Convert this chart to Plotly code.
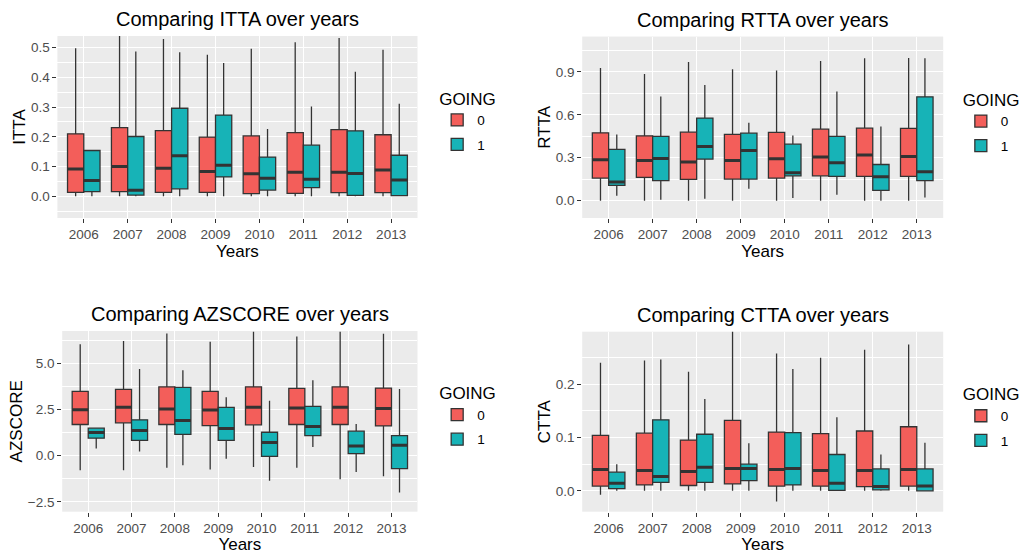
import plotly.graph_objects as go

years = ["2006", "2007", "2008", "2009", "2010", "2011", "2012", "2013"]
going_levels = ["0", "1"]
fill_colors = {"0": "#F35E5A", "1": "#17B3B7"}

# Box statistics per year: lower whisker, Q1, median, Q3, upper whisker
itta_0_low = [0.0, 0.0, 0.0, 0.0, 0.0, 0.0, 0.0, 0.0]
itta_0_q1 = [0.013, 0.016, 0.013, 0.013, 0.009, 0.010, 0.012, 0.012]
itta_0_med = [0.092, 0.100, 0.094, 0.083, 0.076, 0.081, 0.081, 0.088]
itta_0_q3 = [0.210, 0.231, 0.221, 0.199, 0.203, 0.214, 0.224, 0.207]
itta_0_high = [0.498, 0.545, 0.529, 0.476, 0.496, 0.518, 0.532, 0.493]

itta_1_low = [0.0, 0.0, 0.0, 0.0, 0.0, 0.0, 0.0, 0.0]
itta_1_q1 = [0.016, 0.004, 0.025, 0.065, 0.021, 0.029, 0.003, 0.002]
itta_1_med = [0.053, 0.020, 0.136, 0.104, 0.061, 0.057, 0.077, 0.055]
itta_1_q3 = [0.154, 0.201, 0.296, 0.273, 0.132, 0.172, 0.220, 0.138]
itta_1_high = [0.154, 0.487, 0.484, 0.448, 0.226, 0.302, 0.419, 0.311]

rtta_0_low = [0.0, 0.0, 0.0, 0.0, 0.0, 0.0, 0.0, 0.0]
rtta_0_q1 = [0.158, 0.163, 0.149, 0.151, 0.158, 0.174, 0.170, 0.170]
rtta_0_med = [0.286, 0.281, 0.270, 0.281, 0.293, 0.305, 0.319, 0.309]
rtta_0_q3 = [0.474, 0.453, 0.479, 0.463, 0.477, 0.500, 0.507, 0.505]
rtta_0_high = [0.928, 0.886, 0.970, 0.919, 0.909, 0.977, 0.995, 0.998]

rtta_1_low = [0.035, 0.007, 0.014, 0.084, 0.019, 0.042, 0.0, 0.023]
rtta_1_q1 = [0.107, 0.140, 0.291, 0.151, 0.174, 0.170, 0.072, 0.140]
rtta_1_med = [0.130, 0.295, 0.379, 0.351, 0.195, 0.265, 0.167, 0.202]
rtta_1_q3 = [0.358, 0.449, 0.577, 0.472, 0.395, 0.449, 0.253, 0.726]
rtta_1_high = [0.463, 0.728, 0.809, 0.544, 0.456, 0.763, 0.519, 0.995]

azscore_0_low = [-0.79, -0.79, -0.65, -0.74, -0.61, -0.65, -1.27, -1.11]
azscore_0_q1 = [1.69, 1.78, 1.69, 1.63, 1.67, 1.69, 1.69, 1.61]
azscore_0_med = [2.49, 2.62, 2.53, 2.48, 2.62, 2.58, 2.62, 2.55]
azscore_0_q3 = [3.48, 3.59, 3.73, 3.48, 3.73, 3.64, 3.73, 3.66]
azscore_0_high = [6.03, 6.21, 6.62, 6.17, 6.71, 6.46, 6.71, 6.60]

azscore_1_low = [0.39, 0.23, -0.52, -0.16, -1.36, 0.47, -0.88, -1.99]
azscore_1_q1 = [0.95, 0.83, 1.15, 0.83, -0.04, 1.09, 0.11, -0.70]
azscore_1_med = [1.26, 1.36, 1.90, 1.47, 0.72, 1.58, 0.52, 0.56]
azscore_1_q3 = [1.49, 1.94, 3.70, 2.62, 1.27, 2.67, 1.33, 1.09]
azscore_1_high = [1.52, 4.70, 4.63, 3.16, 2.98, 4.09, 1.72, 3.61]

ctta_0_low = [-0.0075, 0.0, 0.0, 0.0, -0.020, 0.0, 0.0, 0.0]
ctta_0_q1 = [0.009, 0.011, 0.010, 0.013, 0.009, 0.009, 0.008, 0.009]
ctta_0_med = [0.040, 0.038, 0.036, 0.042, 0.040, 0.038, 0.038, 0.040]
ctta_0_q3 = [0.104, 0.108, 0.095, 0.132, 0.110, 0.107, 0.112, 0.120]
ctta_0_high = [0.240, 0.244, 0.223, 0.305, 0.257, 0.249, 0.264, 0.274]

ctta_1_low = [0.0, 0.0, 0.0, 0.0, 0.0, 0.0, 0.0, 0.0]
ctta_1_q1 = [0.004, 0.016, 0.016, 0.019, 0.011, 0.001, 0.002, 0.0]
ctta_1_med = [0.014, 0.027, 0.044, 0.042, 0.042, 0.014, 0.008, 0.009]
ctta_1_q3 = [0.035, 0.133, 0.106, 0.050, 0.109, 0.068, 0.041, 0.041]
ctta_1_high = [0.050, 0.246, 0.172, 0.089, 0.228, 0.138, 0.068, 0.090]

panels = [
    {
        "var": "ITTA",
        "stats": {
            "0": (itta_0_low, itta_0_q1, itta_0_med, itta_0_q3, itta_0_high),
            "1": (itta_1_low, itta_1_q1, itta_1_med, itta_1_q3, itta_1_high),
        },
        "xdom": [0.0563, 0.4093], "ydom": [0.6065, 0.935],
        "yrange": [-0.073, 0.539], "dtick": 0.1, "minor": 0.05,
        "legend_xy": (0.4286, 0.851),
        "title_standoff": 0,
    },
    {
        "var": "RTTA",
        "stats": {
            "0": (rtta_0_low, rtta_0_q1, rtta_0_med, rtta_0_q3, rtta_0_high),
            "1": (rtta_1_low, rtta_1_q1, rtta_1_med, rtta_1_q3, rtta_1_high),
        },
        "xdom": [0.5708, 0.9247], "ydom": [0.6065, 0.934],
        "yrange": [-0.121, 1.147], "dtick": 0.3, "minor": 0.15,
        "legend_xy": (0.942, 0.849),
        "title_standoff": 0,
    },
    {
        "var": "AZSCORE",
        "stats": {
            "0": (azscore_0_low, azscore_0_q1, azscore_0_med, azscore_0_q3, azscore_0_high),
            "1": (azscore_1_low, azscore_1_q1, azscore_1_med, azscore_1_q3, azscore_1_high),
        },
        "xdom": [0.061, 0.4093], "ydom": [0.0764, 0.4025],
        "yrange": [-3.03, 6.75], "dtick": 2.5, "minor": 1.25,
        "legend_xy": (0.4286, 0.319),
        "title_standoff": 0,
    },
    {
        "var": "CTTA",
        "stats": {
            "0": (ctta_0_low, ctta_0_q1, ctta_0_med, ctta_0_q3, ctta_0_high),
            "1": (ctta_1_low, ctta_1_q1, ctta_1_med, ctta_1_q3, ctta_1_high),
        },
        "xdom": [0.5708, 0.9247], "ydom": [0.0764, 0.4013],
        "yrange": [-0.039, 0.298], "dtick": 0.1, "minor": 0.05,
        "legend_xy": (0.942, 0.317),
        "title_standoff": 0,
    },
]

BOX_W = 0.37          # width of each box in category units
DODGE = BOX_W / 2     # offset of each group from the category centre
OUTLINE = "#333333"
FONT = "Liberation Sans, Arial, Helvetica, sans-serif"

fig = go.Figure()
layout = {}

for p_idx, panel in enumerate(panels):
    n = p_idx + 1
    suffix = "" if n == 1 else str(n)
    xa, ya = f"x{suffix}", f"y{suffix}"
    legend_name = "legend" if n == 1 else f"legend{n}"

    for g_idx, level in enumerate(going_levels):
        low, q1, med, q3, high = panel["stats"][level]
        offset = -DODGE if g_idx == 0 else DODGE
        xpos = [i + offset for i in range(len(years))]
        fig.add_trace(go.Box(
            x=xpos, lowerfence=low, q1=q1, median=med, q3=q3, upperfence=high,
            width=BOX_W, whiskerwidth=0,
            fillcolor=fill_colors[level],
            line=dict(color=OUTLINE, width=1.3),
            boxpoints=False, name=level,
            xaxis=xa, yaxis=ya, legend=legend_name,
            legendgroup=f"{panel['var']}_{level}",
            hoverinfo="skip",
        ))
        # thicker median bar, as in ggplot's fattened median
        mx, my = [], []
        for x0, m in zip(xpos, med):
            mx += [x0 - BOX_W / 2, x0 + BOX_W / 2, None]
            my += [m, m, None]
        fig.add_trace(go.Scatter(
            x=mx, y=my, mode="lines", line=dict(color=OUTLINE, width=3),
            xaxis=xa, yaxis=ya, showlegend=False, hoverinfo="skip",
        ))

    layout[f"xaxis{suffix}"] = dict(
        domain=panel["xdom"], anchor=ya, range=[-0.6, 7.6],
        tickmode="array", tickvals=list(range(len(years))), ticktext=years,
        showgrid=True, gridcolor="white", gridwidth=1.3, zeroline=False,
        ticks="outside", ticklen=4, tickcolor=OUTLINE, tickwidth=1,
        tickfont=dict(size=13.5, color="#4D4D4D", family=FONT),
        title=dict(text="Years", font=dict(size=17, color="black", family=FONT), standoff=2),
    )
    layout[f"yaxis{suffix}"] = dict(
        domain=panel["ydom"], anchor=xa, range=panel["yrange"],
        dtick=panel["dtick"], tick0=0, tickformat=".1f",
        showgrid=True, gridcolor="white", gridwidth=1.3, zeroline=False,
        minor=dict(dtick=panel["minor"], tick0=0, showgrid=True, gridcolor="white", gridwidth=0.6),
        ticks="outside", ticklen=4, tickcolor=OUTLINE, tickwidth=1,
        tickfont=dict(size=13.5, color="#4D4D4D", family=FONT),
        title=dict(text=panel["var"], font=dict(size=17, color="black", family=FONT),
                   standoff=panel["title_standoff"]),
    )
    layout[legend_name] = dict(
        x=panel["legend_xy"][0], y=panel["legend_xy"][1],
        xanchor="left", yanchor="top",
        title=dict(text="GOING", font=dict(size=17, color="black", family=FONT)),
        font=dict(size=13.5, color="black", family=FONT),
        bgcolor="rgba(0,0,0,0)", tracegroupgap=4, itemwidth=30,
        traceorder="grouped",
    )
    # panel title centred over the plotting area
    fig.add_annotation(
        text=f"Comparing {panel['var']} over years",
        xref="paper", yref="paper",
        x=sum(panel["xdom"]) / 2, y=panel["ydom"][1], yshift=4,
        xanchor="center", yanchor="bottom", showarrow=False,
        font=dict(size=20, color="black", family=FONT),
    )

fig.update_layout(
    width=1022, height=554,
    margin=dict(l=0, r=0, t=0, b=0),
    paper_bgcolor="white", plot_bgcolor="#EBEBEB",
    showlegend=True,
    **layout,
)

# the figure fills the page exactly, so drop the browser's default body margin
fig.write_html("out.html", post_script="document.body.style.margin = '0';")
